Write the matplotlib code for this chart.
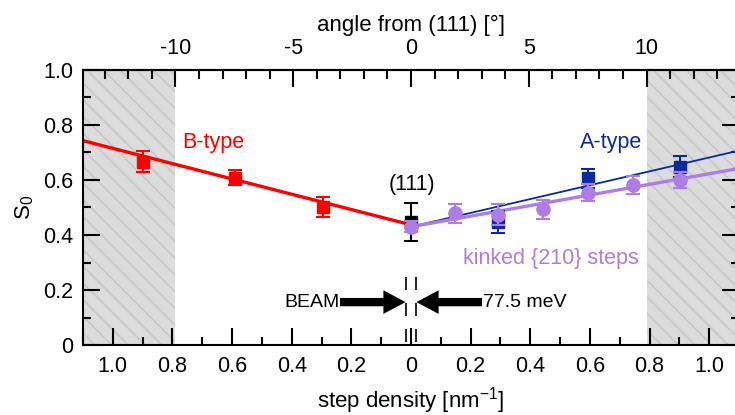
import numpy as np
import matplotlib
matplotlib.use("Agg")
import matplotlib.pyplot as plt
from matplotlib.ticker import MultipleLocator, FixedLocator, FuncFormatter

plt.rcParams['font.family'] = ['Liberation Sans', 'DejaVu Sans']
plt.rcParams['mathtext.default'] = 'regular'
plt.rcParams['axes.unicode_minus'] = False
plt.rcParams['hatch.linewidth'] = 1.2

RED = '#ff0000'
BLUE = '#0a2ba0'
PURPLE = '#ad7de6'

# step density in nm^-1 (negative side = B-type, positive side = A-type)
b_x = [-0.90, -0.59, -0.295]
b_y = [0.667, 0.609, 0.503]
b_err = [0.037, 0.028, 0.036]

a_x = [0.293, 0.594, 0.901]
a_y = [0.447, 0.606, 0.648]
a_err = [0.04, 0.035, 0.038]

k_x = [0.0, 0.147, 0.293, 0.443, 0.594, 0.745, 0.901]
k_y = [0.430, 0.479, 0.473, 0.493, 0.554, 0.582, 0.600]
k_err = [0.02, 0.035, 0.038, 0.036, 0.031, 0.033, 0.03]

p111_x = [0.0]
p111_y = [0.447]
p111_err = [0.068]

# linear fits (end points)
b_fit_x = [-1.1, 0.0]
b_fit_y = [0.743, 0.437]
a_fit_x = [0.0, 1.1]
a_fit_y = [0.430, 0.707]
k_fit_x = [0.0, 1.1]
k_fit_y = [0.430, 0.642]

angle_ticks = [-10, -5, 0, 5, 10]
deg_per_density = 0.079   # nm^-1 per degree
limit_angle = 10

fig = plt.figure(figsize=(7.35, 4.15), dpi=100)
ax = fig.add_axes([83 / 735, 70 / 415, 656 / 735, 275 / 415])

ax.set_xlim(-1.1, 1.1)
ax.set_ylim(0, 1.0)

# hatched regions beyond +-10 deg
lim = limit_angle * deg_per_density
for x0, x1 in [(-1.1, -lim), (lim, 1.1)]:
    ax.axvspan(x0, x1, facecolor='#dcdcdc', edgecolor='#c8c8c8', hatch='\\\\',
               linewidth=0, zorder=0)

ax.plot(b_fit_x, b_fit_y, color=RED, lw=2.4, zorder=2)
ax.plot(a_fit_x, a_fit_y, color=BLUE, lw=1.3, zorder=2)
ax.plot(k_fit_x, k_fit_y, color=PURPLE, lw=2.4, zorder=2)

ax.errorbar(p111_x, p111_y, yerr=p111_err, fmt='s', color='black', ms=8.5,
            capsize=5, capthick=1.5, elinewidth=1.5, zorder=3)
ax.errorbar(b_x, b_y, yerr=b_err, fmt='s', color=RED, ms=8.5,
            capsize=5, capthick=1.5, elinewidth=1.5, zorder=3)
ax.errorbar(a_x, a_y, yerr=a_err, fmt='s', color=BLUE, ms=8.5,
            capsize=5, capthick=1.5, elinewidth=1.5, zorder=3)
ax.errorbar(k_x, k_y, yerr=k_err, fmt='o', color=PURPLE, ms=9.5,
            capsize=5, capthick=1.5, elinewidth=1.5, zorder=4)

# labels
ax.text(-0.768, 0.735, 'B-type', color=RED, fontsize=15.5, ha='left', va='center')
ax.text(0.565, 0.738, 'A-type', color=BLUE, fontsize=15.5, ha='left', va='center')
ax.text(0.002, 0.583, '(111)', color='black', fontsize=15.5, ha='center', va='center')
ax.text(0.175, 0.315, 'kinked {210} steps', color=PURPLE, fontsize=15.5,
        ha='left', va='center')

# beam marker
ax.text(-0.238, 0.156, 'BEAM', fontsize=14, ha='right', va='center')
ax.text(0.241, 0.156, '77.5 meV', fontsize=14, ha='left', va='center')
arrow = dict(arrowstyle='simple,head_length=16,head_width=17,tail_width=6',
             mutation_scale=1, color='black', lw=0, shrinkA=0, shrinkB=0)
ax.annotate('', xy=(-0.018, 0.156), xytext=(-0.238, 0.156), arrowprops=arrow)
ax.annotate('', xy=(0.018, 0.156), xytext=(0.238, 0.156), arrowprops=arrow)
for xd in [-0.018, 0.018]:
    ax.plot([xd, xd], [0.247, 0], color='black', lw=1.2,
            linestyle=(0, (7.8, 7.8)), zorder=2)

# axes styling
ax.xaxis.set_major_locator(MultipleLocator(0.2))
ax.xaxis.set_minor_locator(MultipleLocator(0.1))
ax.yaxis.set_major_locator(MultipleLocator(0.2))
ax.yaxis.set_minor_locator(MultipleLocator(0.1))
ax.xaxis.set_major_formatter(FuncFormatter(lambda v, p: '0' if abs(v) < 1e-9 else '%.1f' % abs(v)))
ax.yaxis.set_major_formatter(FuncFormatter(lambda v, p: '0' if abs(v) < 1e-9 else '%.1f' % v))
ax.tick_params(which='both', direction='in', width=1.5, right=True, top=False,
               labelsize=15.5)
ax.tick_params(which='major', length=12)
ax.tick_params(which='minor', length=6)
ax.tick_params(axis='x', pad=8)
ax.tick_params(axis='y', pad=7)
for s in ax.spines.values():
    s.set_linewidth(1.5)

ax.set_xlabel('step density [nm$^{-1}$]', fontsize=16, labelpad=6)
ax.set_ylabel('S$_0$', fontsize=16, labelpad=5)

top = ax.secondary_xaxis('top', functions=(lambda x: x / deg_per_density,
                                           lambda a: a * deg_per_density))
top.xaxis.set_major_locator(FixedLocator(angle_ticks))
top.xaxis.set_minor_locator(MultipleLocator(1))
top.tick_params(which='both', direction='in', width=1.5, labelsize=15.5, pad=8)
top.tick_params(which='major', length=12)
top.tick_params(which='minor', length=6.5)
top.spines['top'].set_linewidth(1.5)
top.set_xlabel('angle from (111) [°]', fontsize=16, labelpad=5)

fig.savefig('out.png', dpi=100)
